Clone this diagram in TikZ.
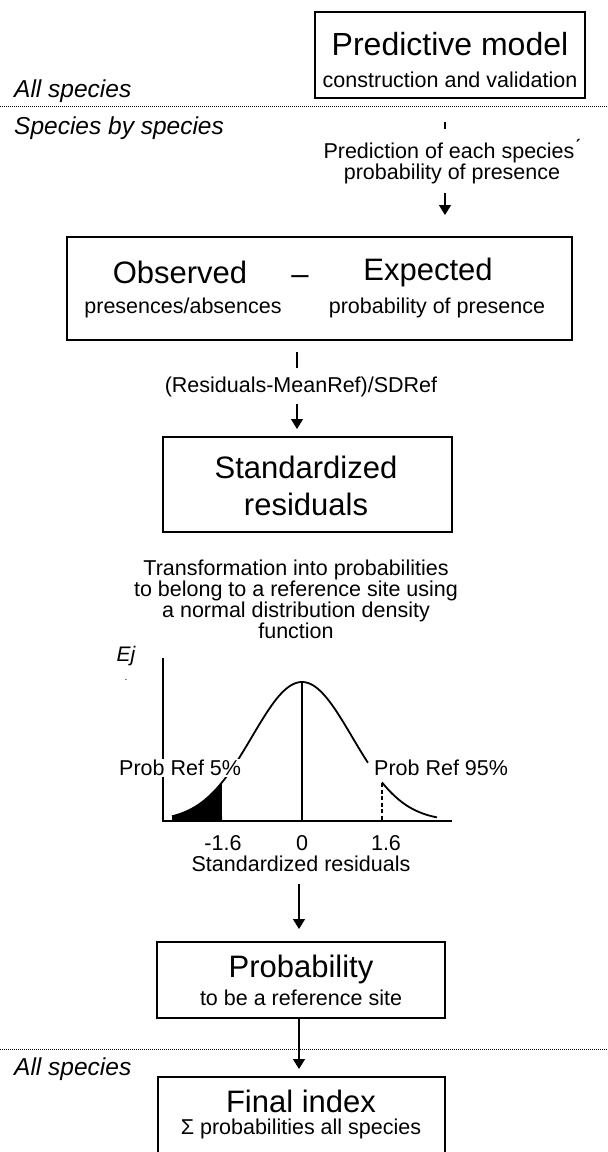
\documentclass[tikz,border=0pt]{standalone}
\usepackage{fontspec}
\setmainfont{Liberation Sans}
\usetikzlibrary{arrows.meta}
\newcommand{\bigf}{\fontsize{31}{33}\selectfont}
\newcommand{\smf}{\fontsize{21.5}{25}\selectfont}
\tikzset{
  boxnode/.style={draw, line width=1.6pt, rectangle, inner sep=0pt},
  txt/.style={inner sep=0pt, anchor=center},
  lbl/.style={fill=white, inner xsep=0pt, inner ysep=1pt, anchor=west},
  arr/.style={line width=1.3pt, -{Triangle[width=12pt,length=10pt]}},
  ln/.style={line width=1.1pt},
  sep/.style={line width=1pt, dash pattern=on 1.2pt off 0.8pt},
  curve/.style={line width=1.8pt},
}
\begin{document}
\begin{tikzpicture}[x=1pt,y=-1pt]
\useasboundingbox (0,0) rectangle (608,1152);
\clip (0,0) rectangle (608,1152);
% top box
\node[boxnode, minimum width=270pt, minimum height=86pt] (pm) at (450,55) {};
\node[txt] (pmt) at (450,44) {\fontsize{32}{34}\selectfont Predictive model};
\node[txt] (pms) at (450,80) {\smf construction and validation};
\node[txt, anchor=west] (all1) at (14,91) {\fontsize{24.5}{27}\selectfont\itshape All species};
\coordinate (d1l) at (0,106); \coordinate (d1r) at (608,106);
\draw[sep] (d1l) -- (d1r);
\node[txt, anchor=west] (sbs) at (14,128) {\fontsize{24.5}{27}\selectfont\itshape Species by species};
\coordinate (tk1) at (445,122); \coordinate (tk2) at (445,129);
\draw[ln] (tk1) -- (tk2);
\node[txt, align=center] (pred) at (452,162) {\smf Prediction of each species\'{}\\\smf probability of presence};
\coordinate (a1s) at (445,193); \coordinate (a1e) at (445,215);
\draw[arr] (a1s) -- (a1e);
% observed - expected
\node[boxnode, minimum width=505pt, minimum height=103pt] (oe) at (319.5,288.5) {};
\node[txt] (obs) at (180,272) {\bigf Observed};
\node[txt] (minus) at (300,280) {\bigf –};
\node[txt] (exp) at (428,272) {\bigf Expected};
\node[txt] (pa) at (183,308) {\smf presences/absences};
\node[txt] (pp) at (437,308) {\smf probability of presence};
\coordinate (l2s) at (297,352); \coordinate (l2e) at (297,368);
\draw[ln] (l2s) -- (l2e);
\node[txt] (resf) at (301,387) {\smf (Residuals-MeanRef)/SDRef};
\coordinate (a2s) at (297,404); \coordinate (a2e) at (297,429);
\draw[arr] (a2s) -- (a2e);
% standardized residuals
\node[boxnode, minimum width=289pt, minimum height=95pt] (sr) at (307.5,484.5) {};
\node[txt] (srt1) at (306,467) {\bigf Standardized};
\node[txt] (srt2) at (306,504) {\bigf residuals};
\node[txt, align=center] (trf) at (296,599) {\smf Transformation into probabilities\\\smf to belong to a reference site using\\\smf a normal distribution density\\\smf function};
% graph
\node[txt] (ej) at (126,656) {\fontsize{21}{23}\selectfont\itshape Ej};
\node[txt] (dot) at (126,680) {\fontsize{10}{12}\selectfont .};
\coordinate (ax0) at (163,821); \coordinate (axt) at (163,658); \coordinate (axr) at (452,821);
\draw[ln] (axt) -- (ax0) -- (axr);
\fill (172,821) -- plot[domain=-2.6:-1.6, samples=30] ({302+50*\x},{821-139*exp(-\x*\x/2)}) -- (222,821) -- cycle;
\draw[curve] plot[domain=-2.6:1.32, samples=80] ({302+50*\x},{821-139*exp(-\x*\x/2)});
\draw[curve] plot[domain=1.6:2.7, samples=30] ({302+50*\x},{821-139*exp(-\x*\x/2)});
\coordinate (pk) at (302,682); \coordinate (pk0) at (302,821);
\draw[ln] (pk) -- (pk0);
\coordinate (ds) at (382,783); \coordinate (de) at (382,821);
\draw[ln, dash pattern=on 4pt off 2.5pt] (ds) -- (de);
\node[lbl] (pr5) at (119,768) {\smf Prob Ref 5\%};
\node[lbl] (pr95) at (374,768) {\smf Prob Ref 95\%};
\node[txt] (tm) at (223,843) {\smf -1.6};
\node[txt] (t0) at (302,843) {\smf 0};
\node[txt] (tp) at (386,843) {\smf 1.6};
\node[txt] (sres) at (301,864) {\smf Standardized residuals};
\coordinate (a3s) at (299,884); \coordinate (a3e) at (299,929);
\draw[arr] (a3s) -- (a3e);
% probability
\node[boxnode, minimum width=288pt, minimum height=76pt] (pr) at (301,980) {};
\node[txt] (prt) at (301,969) {\bigf Probability};
\node[txt] (prs) at (301,998) {\smf to be a reference site};
\coordinate (d2l) at (0,1049); \coordinate (d2r) at (608,1049);
\draw[sep] (d2l) -- (d2r);
\coordinate (a4e) at (299,1069);
\draw[arr] (pr.south -| a4e) -- (a4e);
\node[txt, anchor=west] (all2) at (14,1069) {\fontsize{24.5}{27}\selectfont\itshape All species};
% final
\node[boxnode, minimum width=287pt, minimum height=86pt] (fi) at (301.5,1120) {};
\node[txt] (fit) at (301,1101) {\bigf Final index};
\node[txt] (fis) at (301,1129) {\smf Σ probabilities all species};
\end{tikzpicture}
\end{document}
